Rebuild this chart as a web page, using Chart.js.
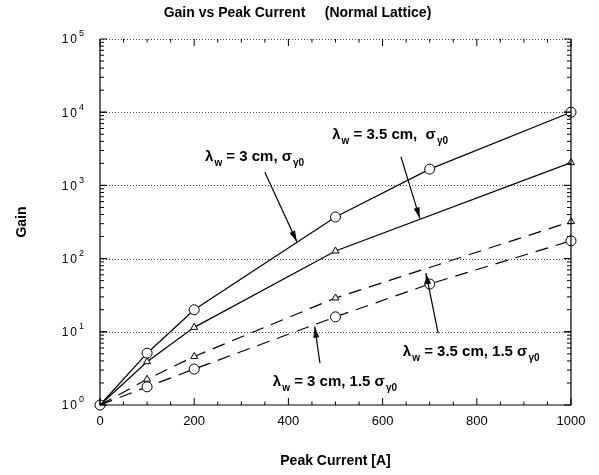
<!DOCTYPE html>
<html>
<head>
<meta charset="utf-8">
<script src="https://cdn.jsdelivr.net/npm/chart.js@4.4.0/dist/chart.umd.min.js"></script>
<style>
html, body { margin: 0; padding: 0; background: #fff; }
#wrap { width: 599px; height: 475px; }
</style>
</head>
<body>
<div id="wrap"><canvas id="myChart"></canvas></div>
<script>
/* data */
var current3 = [0, 100, 200, 500, 700, 1000];
var gain3 = [1, 5.1, 20, 370, 1670, 10000];
var current35 = [0, 100, 200, 500, 1000];
var gain35 = [1, 3.9, 11.5, 127, 2050];
var current35wide = [0, 100, 200, 500, 1000];
var gain35wide = [1, 2.25, 4.6, 29, 320];
var current3wide = [0, 100, 200, 500, 700, 1000];
var gain3wide = [1, 1.77, 3.1, 16, 45, 175];

var yTicks = [1, 10, 100, 1000, 10000, 100000];
var yTickExp = ['0', '1', '2', '3', '4', '5'];

/* annotation labels: text parts, anchor + arrow in data coords (x, log10 y) */
var notes = [
  { parts: [['λ', 0], ['w', 1], [' = 3 cm, ', 0], ['σ', 0], ['γ0', 1]],
    at: [223, 3.39], from: [350, 3.18], to: [418, 2.23] },
  { parts: [['λ', 0], ['w', 1], [' = 3.5 cm,  ', 0], ['σ', 0], ['γ0', 1]],
    at: [493, 3.69], from: [639, 3.39], to: [679, 2.55] },
  { parts: [['λ', 0], ['w', 1], [' = 3.5 cm, 1.5 ', 0], ['σ', 0], ['γ0', 1]],
    at: [643, 0.72], from: [718, 0.98], to: [692, 1.80] },
  { parts: [['λ', 0], ['w', 1], [' = 3 cm, 1.5 ', 0], ['σ', 0], ['γ0', 1]],
    at: [367, 0.31], from: [467, 0.57], to: [456, 1.07] }
];

function pts(xs, ys) {
  return xs.map(function(x, i) { return { x: x, y: ys[i] }; });
}
function hideFirst(r) {
  return function(ctx) { return ctx.dataIndex == 0 ? 0 : r; };
}

var FONT = '"Liberation Sans", Arial, Helvetica, sans-serif';

function arrow(ctx, x1, y1, x2, y2) {
  ctx.beginPath();
  ctx.moveTo(x1, y1);
  ctx.lineTo(x2, y2);
  ctx.stroke();
  var a = Math.atan2(y2 - y1, x2 - x1);
  var len = 11, w = 3;
  ctx.beginPath();
  ctx.moveTo(x2, y2);
  ctx.lineTo(x2 - len * Math.cos(a) + w * Math.sin(a), y2 - len * Math.sin(a) - w * Math.cos(a));
  ctx.lineTo(x2 - len * Math.cos(a) - w * Math.sin(a), y2 - len * Math.sin(a) + w * Math.cos(a));
  ctx.closePath();
  ctx.fill();
}

var framePlugin = {
  id: 'frame',
  beforeDatasetsDraw: function(chart) {
    var ctx = chart.ctx, a = chart.chartArea, y = chart.scales.y;
    ctx.save();
    ctx.strokeStyle = '#444';
    ctx.lineWidth = 1;
    ctx.setLineDash([1, 2]);
    [10, 100, 1000, 10000, 100000].forEach(function(v) {
      var py = Math.round(y.getPixelForValue(v)) + 0.5;
      ctx.beginPath();
      ctx.moveTo(a.left, py);
      ctx.lineTo(a.right, py);
      ctx.stroke();
    });
    ctx.restore();
  },
  afterDatasetsDraw: function(chart) {
    var ctx = chart.ctx, a = chart.chartArea;
    var xs = chart.scales.x, ys = chart.scales.y;
    ctx.save();
    ctx.strokeStyle = '#000';
    ctx.fillStyle = '#000';
    ctx.lineWidth = 1.2;
    ctx.beginPath();
    ctx.moveTo(a.left, a.top);
    ctx.lineTo(a.left, a.bottom);
    ctx.lineTo(a.right, a.bottom);
    ctx.lineTo(a.right, a.top);
    ctx.stroke();

    // x ticks, inward, bottom and top
    ctx.lineWidth = 1;
    for (var v = 0; v <= 1000; v += 50) {
      var px = xs.getPixelForValue(v);
      var len = v % 200 == 0 ? 7 : 3.5;
      ctx.beginPath();
      ctx.moveTo(px, a.bottom);
      ctx.lineTo(px, a.bottom - len);
      ctx.moveTo(px, a.top);
      ctx.lineTo(px, a.top + len);
      ctx.stroke();
    }
    // y ticks, inward, left and right
    for (var d = 1; d < 100000; d *= 10) {
      for (var m = 1; m <= 10; m++) {
        var py = ys.getPixelForValue(d * m);
        var l = (m == 1 || m == 10) ? 7 : 4;
        ctx.beginPath();
        ctx.moveTo(a.left, py);
        ctx.lineTo(a.left + l, py);
        ctx.moveTo(a.right, py);
        ctx.lineTo(a.right - l, py);
        ctx.stroke();
      }
    }

    // y tick labels as 10 with a raised exponent
    ctx.textBaseline = 'middle';
    yTicks.forEach(function(t, i) {
      var py = ys.getPixelForValue(t);
      ctx.textAlign = 'right';
      ctx.font = '12px ' + FONT;
      ctx.letterSpacing = '2px';
      ctx.fillText('10', a.left - 21, py + 1);
      ctx.letterSpacing = '0px';
      ctx.textAlign = 'left';
      ctx.font = '9px ' + FONT;
      ctx.fillText(yTickExp[i], a.left - 21, py - 5);
    });

    // annotations
    ctx.textAlign = 'left';
    notes.forEach(function(n) {
      var x = xs.getPixelForValue(n.at[0]);
      var y = ys.getPixelForValue(Math.pow(10, n.at[1]));
      n.parts.forEach(function(p) {
        if (p[1]) {
          ctx.font = 'bold 10px ' + FONT;
          ctx.fillText(p[0], x + 1, y + 6);
        } else {
          ctx.font = 'bold 15px ' + FONT;
          ctx.fillText(p[0], x, y);
        }
        x += ctx.measureText(p[0]).width + (p[1] ? 1 : 0);
      });
      ctx.lineWidth = 1.2;
      arrow(ctx,
        xs.getPixelForValue(n.from[0]), ys.getPixelForValue(Math.pow(10, n.from[1])),
        xs.getPixelForValue(n.to[0]), ys.getPixelForValue(Math.pow(10, n.to[1])));
    });
    ctx.restore();
  }
};

function series(label, xs, ys, style, radius, dashed, skipFirst) {
  return {
    label: label,
    data: pts(xs, ys),
    borderColor: '#000',
    borderWidth: 1.2,
    borderDash: dashed ? [13, 8] : [],
    pointStyle: style,
    pointRadius: skipFirst ? hideFirst(radius) : radius,
    pointBackgroundColor: '#fff',
    pointBorderColor: '#000',
    pointBorderWidth: 1,
    tension: 0,
    clip: false
  };
}

var ctx = document.getElementById('myChart').getContext('2d');
var myChart = new Chart(ctx, {
  type: 'line',
  data: {
    datasets: [
      series('λw = 3.5 cm, 1.5 σγ0', current35wide, gain35wide, 'triangle', 4, true, true),
      series('λw = 3 cm, 1.5 σγ0', current3wide, gain3wide, 'circle', 5, true, true),
      series('λw = 3.5 cm, σγ0', current35, gain35, 'triangle', 4, false, true),
      series('λw = 3 cm, σγ0', current3, gain3, 'circle', 5, false, false)
    ]
  },
  options: {
    responsive: true,
    maintainAspectRatio: false,
    animation: false,
    layout: { padding: { left: 24, right: 28, top: 0, bottom: 0 } },
    plugins: {
      legend: { display: false },
      tooltip: { enabled: false },
      title: {
        display: true,
        text: 'Gain vs Peak Current     (Normal Lattice)',
        color: '#000',
        font: { family: FONT, size: 14, weight: 'bold', lineHeight: 1.2 },
        padding: { top: 5, bottom: 17.2 }
      }
    },
    scales: {
      x: {
        type: 'linear',
        min: 0,
        max: 1000,
        grid: { display: false, drawTicks: false },
        border: { display: false },
        ticks: {
          stepSize: 200, color: '#000', padding: 9,
          font: { family: FONT, size: 13 },
          callback: function(v) { return String(v); }
        },
        title: {
          display: true,
          text: 'Peak Current [A]',
          color: '#000',
          font: { family: FONT, size: 14, weight: 'bold' },
          padding: { bottom: 5 }
        },
        afterFit: function(s) { s.height = 70; }
      },
      y: {
        type: 'logarithmic',
        min: 1,
        max: 100000,
        grid: { display: false, drawTicks: false },
        border: { display: false },
        afterBuildTicks: function(s) {
          s.ticks = yTicks.map(function(v) { return { value: v }; });
        },
        ticks: { display: false },
        title: {
          display: true,
          text: 'Gain',
          color: '#000',
          font: { family: FONT, size: 14, weight: 'bold' },
          padding: { top: -10 }
        },
        afterFit: function(s) { s.width = 76; }
      }
    }
  },
  plugins: [framePlugin]
});
</script>
</body>
</html>
